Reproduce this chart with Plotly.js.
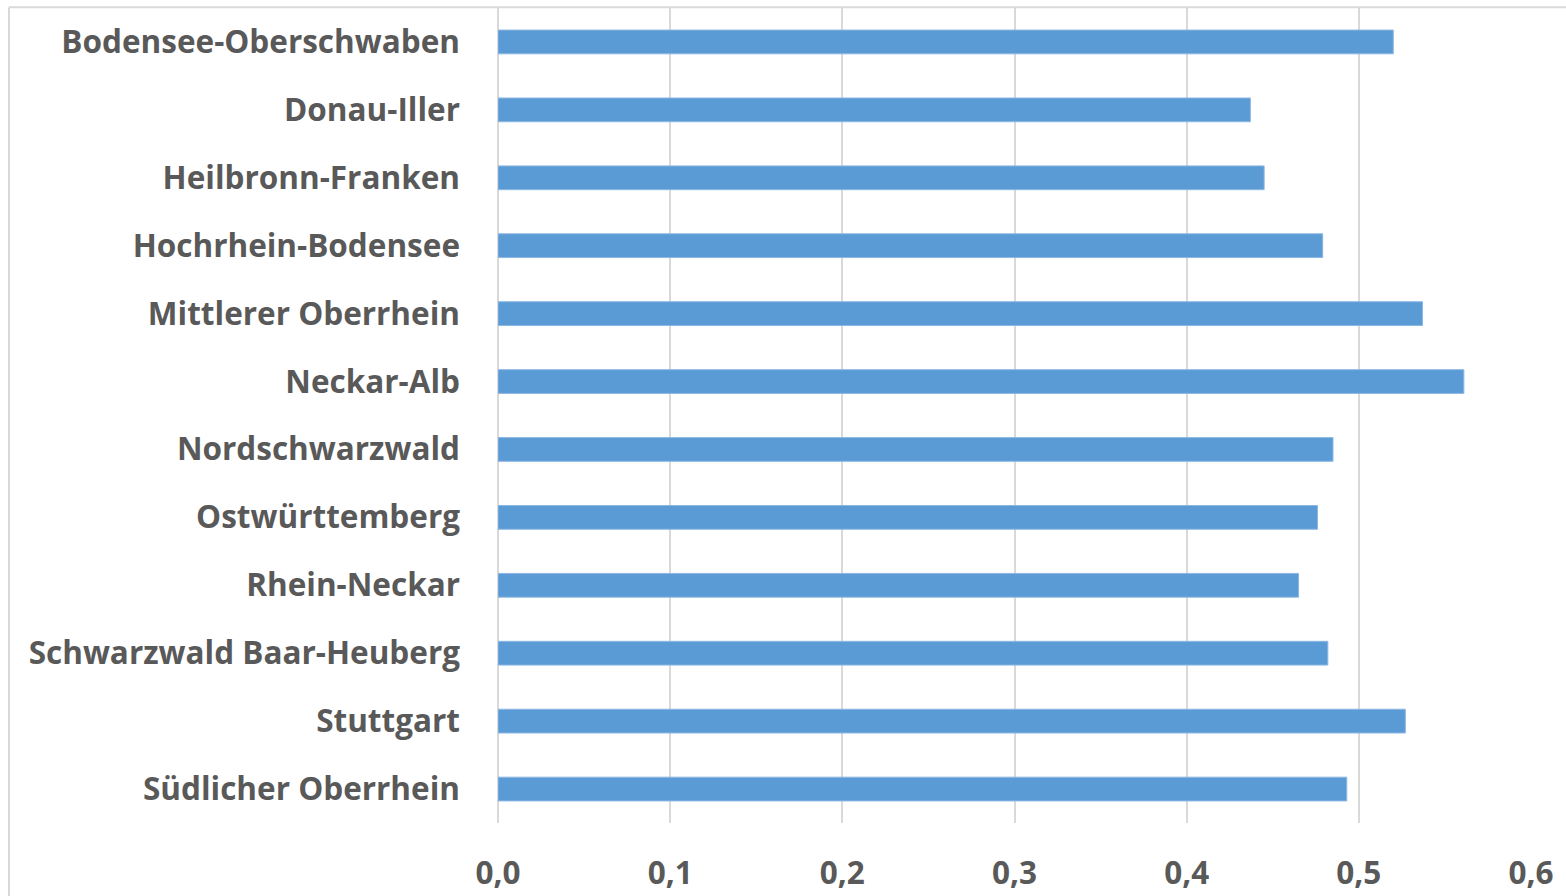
<!DOCTYPE html>
<html>
<head>
<meta charset="utf-8">
<script src="https://cdn.plot.ly/plotly-3.0.1.min.js"></script>
<style>
html,body{margin:0;padding:0;background:#fff;}
#chart{width:1566px;height:896px;}
</style>
</head>
<body>
<div id="chart"></div>
<script>
const regions = [
  "Bodensee-Oberschwaben",
  "Donau-Iller",
  "Heilbronn-Franken",
  "Hochrhein-Bodensee",
  "Mittlerer Oberrhein",
  "Neckar-Alb",
  "Nordschwarzwald",
  "Ostwürttemberg",
  "Rhein-Neckar",
  "Schwarzwald Baar-Heuberg",
  "Stuttgart",
  "Südlicher Oberrhein"
];
const values = [0.520, 0.437, 0.445, 0.479, 0.537, 0.561, 0.485, 0.476, 0.465, 0.482, 0.527, 0.493];
const xTicks = [0, 0.1, 0.2, 0.3, 0.4, 0.5, 0.6];

const labelFont = {family: "Open Sans, sans-serif", size: 31.5, color: "#595959", weight: 700};

const trace = {
  type: "bar",
  orientation: "h",
  y: regions,
  x: values,
  width: 0.35,
  marker: {color: "#5B9BD5", line: {color: "#8DB7E3", width: 1}},
  hoverinfo: "x+y"
};

const layout = {
  width: 1566,
  height: 896,
  margin: {l: 498, r: 35, t: 8, b: 73},
  paper_bgcolor: "#ffffff",
  plot_bgcolor: "#ffffff",
  separators: ",.",
  showlegend: false,
  bargap: 0.65,
  xaxis: {
    range: [0, 0.6],
    tickvals: xTicks,
    tickformat: ".1f",
    showgrid: true,
    gridcolor: "#D9D9D9",
    gridwidth: 2,
    zeroline: true,
    zerolinecolor: "#D9D9D9",
    zerolinewidth: 2,
    showline: false,
    ticks: "",
    ticklabelstandoff: 28,
    tickfont: labelFont,
    fixedrange: true
  },
  yaxis: {
    autorange: "reversed",
    type: "category",
    showgrid: false,
    zeroline: false,
    showline: false,
    ticks: "",
    ticklabelstandoff: 37,
    tickfont: labelFont,
    fixedrange: true
  },
  shapes: [
    {type: "line", xref: "paper", yref: "paper", x0: -0.4734, x1: 1.1, y0: 1.001, y1: 1.001,
     line: {color: "#D9D9D9", width: 2}},
    {type: "line", xref: "paper", yref: "paper", x0: -0.4734, x1: -0.4734, y0: 1.001, y1: -0.2,
     line: {color: "#D9D9D9", width: 2}}
  ]
};

Plotly.newPlot("chart", [trace], layout, {displayModeBar: false, staticPlot: true});
</script>
</body>
</html>
